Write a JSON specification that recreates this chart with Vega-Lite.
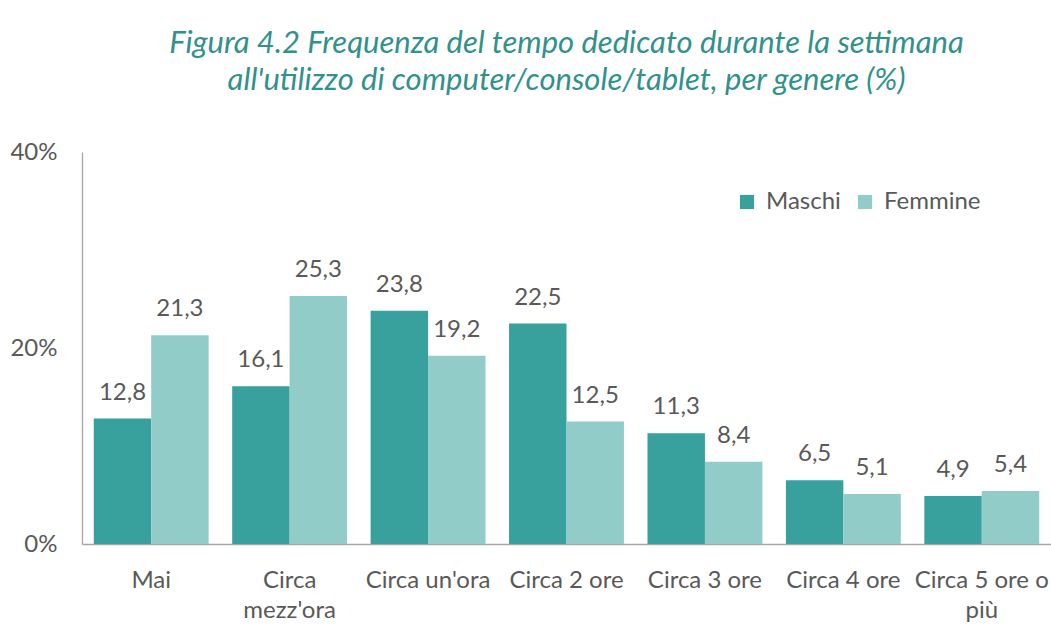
{
  "$schema": "https://vega.github.io/schema/vega-lite/v6.json",
  "autosize": {"type": "none"},
  "width": 969,
  "height": 392,
  "padding": {"left": 82, "top": 152, "right": 0, "bottom": 91},
  "background": "white",
  "title": {
    "text": ["Figura 4.2 Frequenza del tempo dedicato durante la settimana", "all'utilizzo di computer/console/tablet, per genere (%)"],
    "font": "Lato",
    "fontSize": 31,
    "fontStyle": "italic",
    "fontWeight": "normal",
    "color": "#31918B",
    "anchor": "middle",
    "lineHeight": 37,
    "offset": 43
  },
  "data": {
    "values": [
      {"cat": "Mai", "gen": "Maschi", "value": 12.8},
      {"cat": "Mai", "gen": "Femmine", "value": 21.3},
      {"cat": "Circa mezz'ora", "gen": "Maschi", "value": 16.1},
      {"cat": "Circa mezz'ora", "gen": "Femmine", "value": 25.3},
      {"cat": "Circa un'ora", "gen": "Maschi", "value": 23.8},
      {"cat": "Circa un'ora", "gen": "Femmine", "value": 19.2},
      {"cat": "Circa 2 ore", "gen": "Maschi", "value": 22.5},
      {"cat": "Circa 2 ore", "gen": "Femmine", "value": 12.5},
      {"cat": "Circa 3 ore", "gen": "Maschi", "value": 11.3},
      {"cat": "Circa 3 ore", "gen": "Femmine", "value": 8.4},
      {"cat": "Circa 4 ore", "gen": "Maschi", "value": 6.5},
      {"cat": "Circa 4 ore", "gen": "Femmine", "value": 5.1},
      {"cat": "Circa 5 ore o più", "gen": "Maschi", "value": 4.9},
      {"cat": "Circa 5 ore o più", "gen": "Femmine", "value": 5.4}
    ]
  },
  "encoding": {
    "x": {
      "field": "cat",
      "type": "nominal",
      "sort": null,
      "scale": {"paddingInner": 0.17, "paddingOuter": 0.085},
      "axis": {
        "title": null,
        "labelAngle": 0,
        "labelFont": "Lato",
        "labelFontSize": 24,
        "labelColor": "#595959",
        "labelPadding": 43,
        "labelBaseline": "alphabetic",
        "labelLineHeight": 30,
        "ticks": false,
        "domainColor": "#A6A6A6",
        "domainWidth": 1.3,
        "labelExpr": "datum.value == \"Circa mezz'ora\" ? ['Circa', \"mezz'ora\"] : datum.value == 'Circa 5 ore o più' ? ['Circa 5 ore o', 'più'] : datum.value"
      }
    },
    "xOffset": {"field": "gen", "type": "nominal", "sort": ["Maschi", "Femmine"]},
    "y": {
      "field": "value",
      "type": "quantitative",
      "scale": {"domain": [0, 40]},
      "axis": {
        "title": null,
        "values": [0, 20, 40],
        "grid": false,
        "ticks": false,
        "labelExpr": "datum.value + '%'",
        "labelFont": "Lato",
        "labelFontSize": 24,
        "labelColor": "#595959",
        "labelPadding": 25,
        "domainColor": "#A6A6A6",
        "domainWidth": 1.3
      }
    }
  },
  "layer": [
    {
      "mark": {"type": "bar"},
      "encoding": {
        "color": {
          "field": "gen",
          "type": "nominal",
          "sort": ["Maschi", "Femmine"],
          "scale": {"domain": ["Maschi", "Femmine"], "range": ["#38A19E", "#91CCC9"]},
          "legend": {
            "title": null,
            "orient": "none",
            "legendX": 653,
            "legendY": 38,
            "direction": "horizontal",
            "symbolType": "square",
            "symbolSize": 200,
            "symbolStrokeWidth": 0,
            "labelFont": "Lato",
            "labelFontSize": 24,
            "labelColor": "#595959",
            "columnPadding": 12,
            "labelOffset": 7
          }
        }
      }
    },
    {
      "mark": {"type": "text", "dy": -19, "baseline": "alphabetic", "font": "Lato", "fontSize": 24, "color": "#595959"},
      "encoding": {
        "text": {"field": "value", "type": "quantitative", "format": ".1f"}
      }
    }
  ],
  "config": {
    "view": {"stroke": null},
    "locale": {"number": {"decimal": ",", "thousands": ".", "grouping": [3], "currency": ["", " €"]}}
  }
}
